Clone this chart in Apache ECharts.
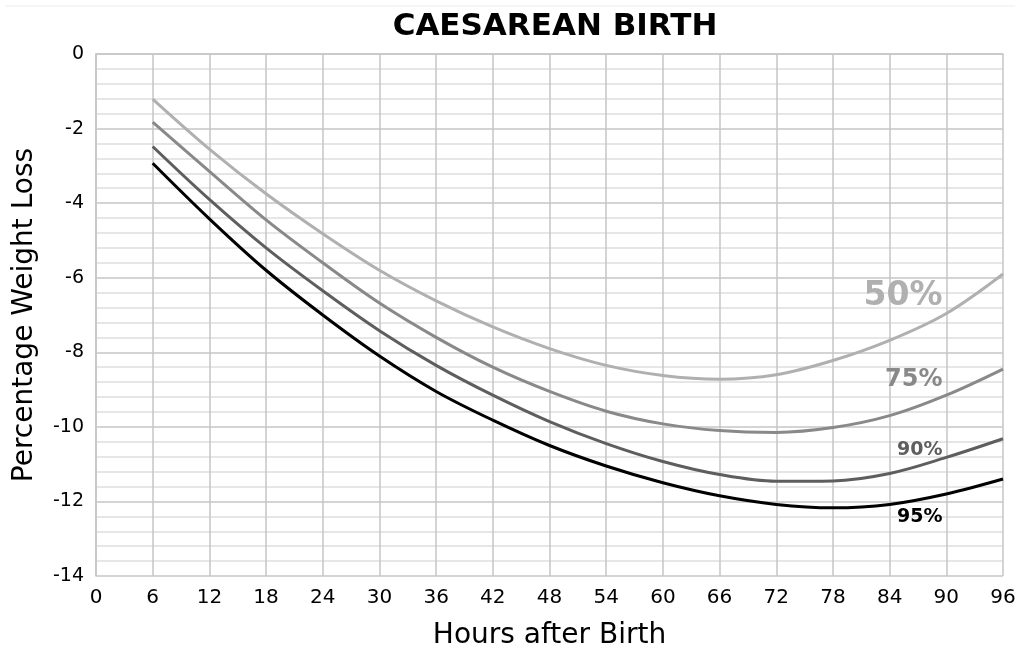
<!DOCTYPE html>
<html>
<head>
<meta charset="utf-8">
<script src="https://cdn.jsdelivr.net/npm/echarts@6/dist/echarts.min.js"></script>
<style>
    html, body { margin: 0; padding: 0; background: #fff; }
    #chart { width: 1021px; height: 649px; }
</style>
</head>
<body>
<div id="chart"></div>
<script>
// hours after birth
const hours = [6, 12, 18, 24, 30, 36, 42, 48, 54, 60, 66, 72, 78, 84, 90, 96];
// percentile curves, % weight loss
const p50 = [-1.21, -2.55, -3.75, -4.82, -5.8, -6.62, -7.32, -7.9, -8.35, -8.62, -8.72, -8.6, -8.22, -7.68, -6.96, -5.9];
const p75 = [-1.83, -3.15, -4.45, -5.6, -6.68, -7.6, -8.4, -9.05, -9.58, -9.92, -10.1, -10.15, -10.02, -9.7, -9.15, -8.45];
const p90 = [-2.48, -3.9, -5.2, -6.35, -7.42, -8.35, -9.15, -9.86, -10.45, -10.93, -11.28, -11.46, -11.45, -11.25, -10.82, -10.32];
const p95 = [-2.93, -4.42, -5.8, -7.0, -8.1, -9.05, -9.82, -10.5, -11.05, -11.5, -11.85, -12.08, -12.17, -12.08, -11.8, -11.4];
const curveNames = ['50%', '75%', '90%', '95%'];
// where the percentile tags sit (x, y in data units)
const tagX = [89.6, 89.6, 89.6, 89.6];
const tagY = [-6.5, -8.73, -10.61, -12.43];

const FONT = 'DejaVu Sans';
const colors = ['#b0b0b0', '#898989', '#5e5e5e', '#000000'];
const tagSize = [33, 24, 19, 19];
const allData = [p50, p75, p90, p95];

function makeSeries(i) {
    return {
        name: curveNames[i],
        type: 'line',
        smooth: 0.35,
        showSymbol: false,
        lineStyle: { color: colors[i], width: 3 },
        data: hours.map((h, k) => [h, allData[i][k]]),
        markPoint: {
            symbol: 'circle',
            symbolSize: 0,
            itemStyle: { color: 'transparent' },
            label: {
                show: true,
                position: 'left',
                distance: 0,
                formatter: curveNames[i],
                fontFamily: FONT,
                fontWeight: 'bold',
                fontSize: tagSize[i],
                color: colors[i]
            },
            data: [{ coord: [tagX[i], tagY[i]] }]
        }
    };
}

const chart = echarts.init(document.getElementById('chart'));
const option = {
    backgroundColor: '#fff',
    animation: false,
    textStyle: { fontFamily: FONT },
    title: {
        text: 'CAESAREAN BIRTH',
        left: 550,
        textAlign: 'center',
        top: 6,
        textStyle: { fontFamily: FONT, fontSize: 31, fontWeight: 'bold', color: '#000' }
    },
    graphic: [{
        type: 'line',
        shape: { x1: 5, y1: 6, x2: 1015, y2: 6 },
        style: { stroke: '#ececec', lineWidth: 1 }
    }],
    grid: { left: 96, right: 18, top: 54, bottom: 73, outerBoundsMode: 'none' },
    xAxis: {
        type: 'value',
        min: 0,
        max: 96,
        interval: 6,
        name: 'Hours after Birth',
        nameLocation: 'middle',
        nameGap: 46,
        nameTextStyle: { fontFamily: FONT, fontSize: 28, color: '#000' },
        axisLine: { show: true, lineStyle: { color: '#c6c6c6', width: 1.5 } },
        axisTick: { show: false },
        axisLabel: { fontSize: 20, color: '#000', margin: 12, fontFamily: FONT },
        splitLine: { show: true, lineStyle: { color: '#c6c6c6', width: 1.5 } }
    },
    yAxis: {
        type: 'value',
        min: -14,
        max: 0,
        interval: 2,
        name: 'Percentage Weight Loss',
        nameLocation: 'middle',
        nameGap: 57,
        nameTextStyle: { fontFamily: FONT, fontSize: 28, color: '#000' },
        axisLine: { show: true, lineStyle: { color: '#c6c6c6', width: 1.5 } },
        axisTick: { show: false },
        axisLabel: { fontSize: 19, color: '#000', margin: 12, fontFamily: FONT },
        splitLine: { show: true, lineStyle: { color: '#c6c6c6', width: 1.5 } },
        minorTick: { show: false, splitNumber: 5 },
        minorSplitLine: { show: true, lineStyle: { color: '#dedede', width: 1.5 } }
    },
    series: [makeSeries(0), makeSeries(1), makeSeries(2), makeSeries(3)]
};
chart.setOption(option);
</script>
</body>
</html>
